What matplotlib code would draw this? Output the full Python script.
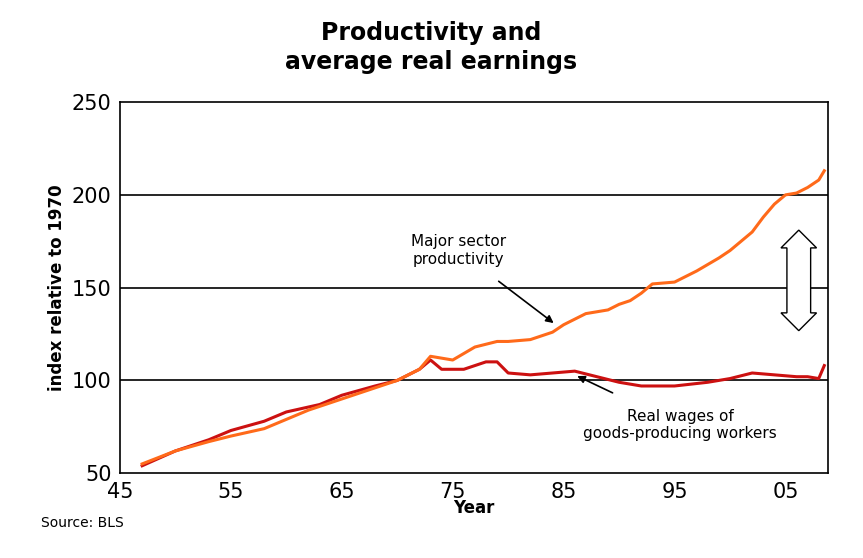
import matplotlib
matplotlib.use("Agg")
import matplotlib.pyplot as plt

prod_years = [47, 50, 53, 55, 58, 60, 62, 65, 68, 70, 72, 73, 74, 75, 77, 79, 80, 82, 84, 85, 86, 87, 89, 90, 91, 92, 93, 95, 97, 99, 100, 101, 102, 103, 104, 105, 106, 107, 108, 108.5]
prod_vals = [55, 62, 67, 70, 74, 79, 84, 90, 96, 100, 106, 113, 112, 111, 118, 121, 121, 122, 126, 130, 133, 136, 138, 141, 143, 147, 152, 153, 159, 166, 170, 175, 180, 188, 195, 200, 201, 204, 208, 213]
wage_years = [47, 50, 53, 55, 58, 60, 63, 65, 68, 70, 72, 73, 74, 76, 78, 79, 80, 82, 84, 86, 88, 90, 92, 95, 98, 100, 102, 104, 106, 107, 108, 108.5]
wage_vals = [54, 62, 68, 73, 78, 83, 87, 92, 97, 100, 106, 111, 106, 106, 110, 110, 104, 103, 104, 105, 102, 99, 97, 97, 99, 101, 104, 103, 102, 102, 101, 108]

fig = plt.figure(figsize=(8.63, 5.58), dpi=100)
ax = fig.add_axes([0.139, 0.152, 0.82, 0.665])
for y in [100, 150, 200]:
    ax.axhline(y, color="black", lw=1.2, zorder=1)
ax.plot(prod_years, prod_vals, color="#ff6a1a", lw=2.2, zorder=3)
ax.plot(wage_years, wage_vals, color="#cc1111", lw=2.2, zorder=2)
ax.set_xlim(45, 108.8)
ax.set_ylim(50, 250)
ax.set_xticks([45, 55, 65, 75, 85, 95, 105])
ax.set_xticklabels(["45", "55", "65", "75", "85", "95", "05"])
ax.set_yticks([50, 100, 150, 200, 250])
ax.tick_params(labelsize=15, length=0, pad=6)
for s in ax.spines.values():
    s.set_linewidth(1.2)
ax.set_ylabel("index relative to 1970", fontsize=12, fontweight="bold")
ax.set_xlabel("Year", fontsize=12, fontweight="bold", labelpad=-2)
fig.text(0.5, 0.915, "Productivity and\naverage real earnings", ha="center", va="center",
         fontsize=17, fontweight="bold", linespacing=1.3)
fig.text(0.048, 0.055, "Source: BLS", fontsize=10)
ax.annotate("Major sector\nproductivity", xy=(84.3, 130), xytext=(75.5, 170), fontsize=11,
            ha="center", va="center", arrowprops=dict(arrowstyle="-|>", color="black", lw=1.2, shrinkA=14))
ax.annotate("Real wages of\ngoods-producing workers", xy=(86, 103), xytext=(95.5, 76), fontsize=11,
            ha="center", va="center", arrowprops=dict(arrowstyle="-|>", color="black", lw=1.2, shrinkA=22))
ax.text(106.2, 154, " " * 17, rotation=90, ha="center", va="center", fontsize=10,
        bbox=dict(boxstyle="darrow,pad=0.35", fc="white", ec="black", lw=1.0), zorder=4)
fig.savefig("out.png", dpi=100)
